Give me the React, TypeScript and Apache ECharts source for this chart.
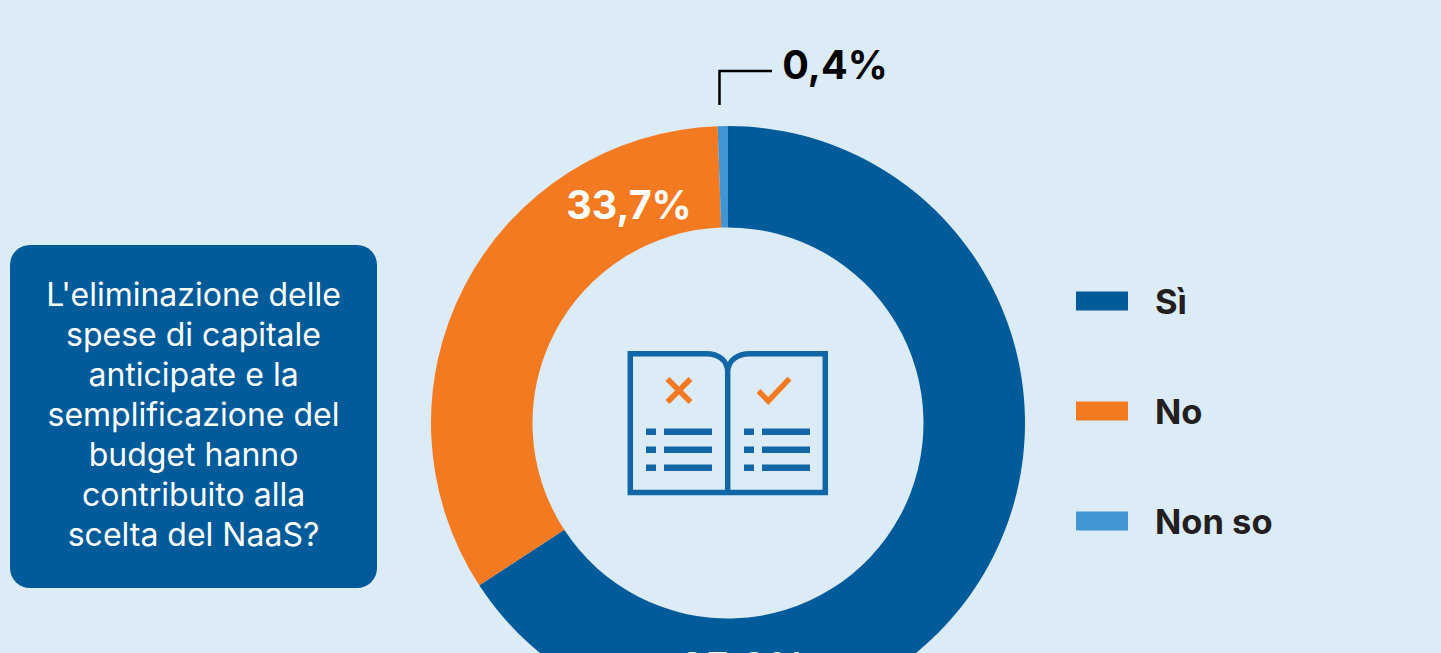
import React, { useEffect, useRef } from "react";
import * as echarts from "echarts";

const categories = ["Sì", "No", "Non so"];
const values = [65.9, 33.7, 0.4];
const sliceColors = ["#005b9a", "#f47a22", "#4295d3"];
const labelColors = ["#ffffff", "#ffffff", "#000000"];
const labelSpots = [
  { x: 743, y: 667 },
  { x: 629, y: 205 },
  { x: 835, y: 65 },
];
const question = [
  "L'eliminazione delle",
  "spese di capitale",
  "anticipate e la",
  "semplificazione del",
  "budget hanno",
  "contribuito alla",
  "scelta del NaaS?",
];

const FONT = "Inter, 'Open Sans', sans-serif";
const ICON_BLUE = "#1167a5";

const bookPath =
  "M727.7 494V372C727.7 360 718 353.7 706 353.7H630.3V492.4H825.3V353.7H750C738 353.7 727.7 360 727.7 372";
const crossPath = "M667.5 379L690.5 402M690.5 379L667.5 402";
const tickPath = "M758.5 391L768.3 401L789.5 378.7";
const rowsPath = [431.7, 449.7, 467.7]
  .map(
    (y) =>
      `M646 ${y}H656M664 ${y}H712M744 ${y}H754M762 ${y}H810`
  )
  .join("");

export default function App() {
  const ref = useRef<HTMLDivElement>(null);

  useEffect(() => {
    document.body.style.margin = "0";
    echarts.graphic.registerShape("iconBook", echarts.graphic.extendPath(bookPath, {}));
    echarts.graphic.registerShape("iconCross", echarts.graphic.extendPath(crossPath, {}));
    echarts.graphic.registerShape("iconTick", echarts.graphic.extendPath(tickPath, {}));
    echarts.graphic.registerShape("iconRows", echarts.graphic.extendPath(rowsPath, {}));

    const chart = echarts.init(ref.current!, undefined, { renderer: "svg" });
    chart.setOption({
      animation: false,
      backgroundColor: "#dcecf7",
      tooltip: { show: false },
      legend: {
        left: 1076,
        top: 281,
        padding: 0,
        orient: "vertical",
        icon: "rect",
        itemWidth: 52,
        itemHeight: 19,
        itemGap: 70,
        selectedMode: false,
        data: categories,
        textStyle: {
          fontFamily: FONT,
          fontWeight: 700,
          fontSize: 34.5,
          lineHeight: 34,
          color: "#231f20",
          padding: [6, 0, 0, 22],
        },
      },
      graphic: [
        {
          type: "rect",
          shape: { x: 10, y: 245, width: 367, height: 343, r: 20 },
          style: { fill: "#005b9a" },
        },
        {
          type: "text",
          x: 193.5,
          y: 274,
          style: {
            text: question.join("\n"),
            fontFamily: FONT,
            fontSize: 32,
            lineHeight: 40,
            fill: "#ffffff",
            align: "center",
            verticalAlign: "top",
          },
        },
        {
          type: "polyline",
          shape: { points: [[719.5, 105], [719.5, 71], [772, 71]] },
          style: { stroke: "#000000", lineWidth: 2.5, fill: "none" },
        },
        { type: "iconBook", style: { stroke: ICON_BLUE, lineWidth: 5.5, fill: "none" } },
        { type: "iconRows", style: { stroke: ICON_BLUE, lineWidth: 6.5, fill: "none" } },
        { type: "iconCross", style: { stroke: "#f47a22", lineWidth: 5.5, fill: "none" } },
        { type: "iconTick", style: { stroke: "#f47a22", lineWidth: 5.5, fill: "none" } },
      ],
      series: [
        {
          type: "pie",
          center: [728, 423],
          radius: [195.5, 297],
          startAngle: 90,
          clockwise: true,
          minAngle: 2,
          avoidLabelOverlap: false,
          silent: true,
          labelLine: { show: false },
          label: {
            show: true,
            position: "inside",
            fontFamily: FONT,
            fontWeight: 700,
            fontSize: 39.5,
            formatter: (p: any) => `${p.value.toFixed(1).replace(".", ",")}%`,
          },
          labelLayout: (p: any) => ({
            x: labelSpots[p.dataIndex].x,
            y: labelSpots[p.dataIndex].y,
            align: "center",
            verticalAlign: "middle",
            hideOverlap: false,
          }),
          data: categories.map((name, i) => ({
            name,
            value: values[i],
            itemStyle: { color: sliceColors[i] },
            label: { color: labelColors[i] },
          })),
        },
      ],
    });
    return () => chart.dispose();
  }, []);

  return <div ref={ref} style={{ position: "fixed", left: 0, top: 0, width: 1441, height: 653 }} />;
}
